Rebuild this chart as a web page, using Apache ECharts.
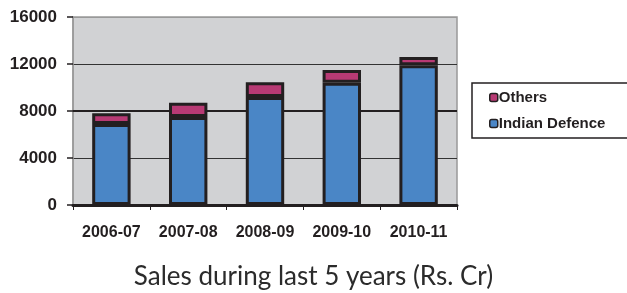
<!DOCTYPE html>
<html lang="en">
<head>
  <meta charset="UTF-8">
  <title>Sales during last 5 years</title>
  <script src="https://cdn.jsdelivr.net/npm/echarts@6/dist/echarts.min.js"></script>
  <style>
    * { margin: 0; padding: 0; }
    body { background: #fff; }
    #chart { width: 627px; height: 293px; }
  </style>
</head>
<body>
  <div id="chart"></div>
<script>
  // 数据
  var years = ['2006-07', '2007-08', '2008-09', '2009-10', '2010-11'];
  var indianDefence = [6900, 7500, 9200, 10400, 11900];
  var others = [900, 1200, 1250, 1100, 700];
  var yTicks = [0, 4000, 8000, 12000, 16000];

  var edge = '#231f20';
  var myChart = echarts.init(document.getElementById('chart'));

  var option = {
    animation: false,
    title: {
      text: 'Sales during last 5 years (Rs. Cr)',
      left: 'center',
      top: 259,
      textStyle: { fontFamily: 'Lato', fontWeight: 'normal', fontSize: 26, color: '#2b2b2b' }
    },
    legend: {
      orient: 'vertical',
      left: 472,
      top: 83,
      data: ['Others', 'Indian Defence'],
      backgroundColor: '#fff',
      borderColor: edge,
      borderWidth: 1.5,
      padding: [7, 60, 7, 17],
      itemGap: 11,
      itemWidth: 8,
      itemHeight: 8,
      itemStyle: { borderColor: edge, borderWidth: 1.5 },
      textStyle: { fontFamily: 'Liberation Sans', fontWeight: 'bold', fontSize: 15, color: edge, padding: [0, 0, 0, -4] }
    },
    grid: {
      left: 73, right: 170, top: 17, bottom: 88,
      show: true,
      backgroundColor: '#d1d2d4',
      borderColor: '#999',
      borderWidth: 1.5
    },
    xAxis: {
      type: 'category',
      data: years,
      axisLine: { lineStyle: { color: edge, width: 3 } },
      axisTick: { show: true, length: 5, lineStyle: { color: edge, width: 1 } },
      axisLabel: { margin: 20, fontFamily: 'Liberation Sans', fontWeight: 'bold', fontSize: 16, color: edge }
    },
    yAxis: {
      type: 'value',
      min: yTicks[0],
      max: yTicks[yTicks.length - 1],
      interval: 4000,
      axisLine: { show: true, lineStyle: { color: '#999', width: 1.5 } },
      axisTick: { show: true, length: 6, lineStyle: { color: edge, width: 1.5 } },
      axisLabel: {
        margin: 16, fontFamily: 'Liberation Sans', fontWeight: 'bold', fontSize: 17, color: edge,
        formatter: function (v) { return String(v); }
      },
      splitLine: { show: true, lineStyle: { color: ['#333', '#333', '#333', '#333', '#999'], width: 1 } }
    },
    series: [{
      name: 'Indian Defence',
      type: 'bar',
      stack: 'sales',
      barWidth: '50%',
      data: indianDefence,
      itemStyle: { color: '#4a86c6', borderColor: edge, borderWidth: 3 },
      markLine: {
        silent: true,
        symbol: 'none',
        label: { show: false },
        lineStyle: { color: edge, width: 2, type: 'solid' },
        data: [{ yAxis: 8000 }],
        z: 1
      },
      z: 3
    }, {
      name: 'Others',
      type: 'bar',
      stack: 'sales',
      barWidth: '50%',
      data: others,
      itemStyle: { color: '#b83a74', borderColor: edge, borderWidth: 3 },
      z: 3
    }]
  };

  myChart.setOption(option);
</script>
</body>
</html>
